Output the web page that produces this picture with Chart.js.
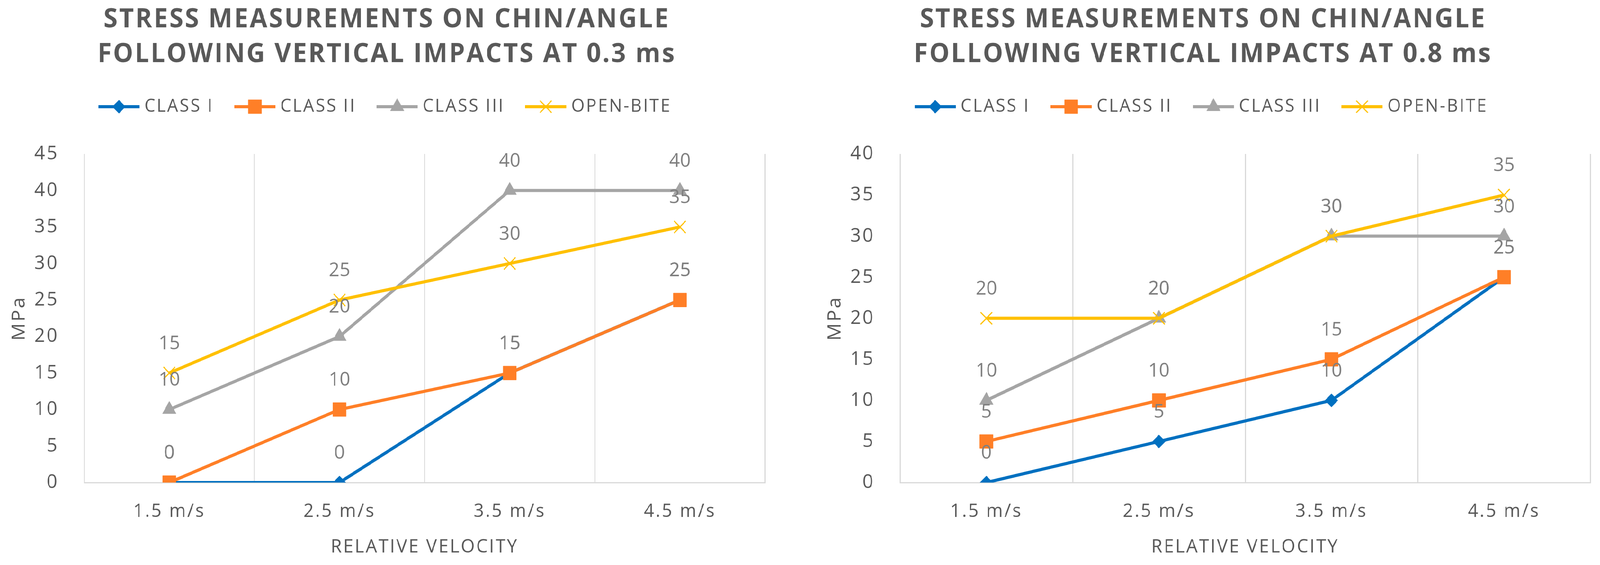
<!DOCTYPE html>
<html>
<head>
<meta charset="utf-8">
<script src="https://cdn.jsdelivr.net/npm/chart.js@4.4.1/dist/chart.umd.min.js"></script>
<style>
  html, body { margin: 0; padding: 0; background: #fff; overflow: hidden; }
  #wrap { position: relative; width: 4275px; height: 1446px; transform-origin: 0 0; }
  .box { position: absolute; top: 0; height: 1446px; }
  #left { left: 0; width: 2070px; }
  #right { left: 2180px; width: 2095px; }
</style>
</head>
<body>
<div id="wrap">
  <div class="box" id="left"><canvas id="chart03" width="2070" height="1446"></canvas></div>
  <div class="box" id="right"><canvas id="chart08" width="2095" height="1446"></canvas></div>
</div>
<script>
// categories
const velocities = ['1.5 m/s', '2.5 m/s', '3.5 m/s', '4.5 m/s'];
const seriesNames = ['CLASS I', 'CLASS II', 'CLASS III', 'OPEN-BITE'];

// stress (MPa) at 0.3 ms
const classI_03 = [0, 0, 15, 25];
const classII_03 = [0, 10, 15, 25];
const classIII_03 = [10, 20, 40, 40];
const openBite_03 = [15, 25, 30, 35];

// stress (MPa) at 0.8 ms
const classI_08 = [0, 5, 10, 25];
const classII_08 = [5, 10, 15, 25];
const classIII_08 = [10, 20, 30, 30];
const openBite_08 = [20, 20, 30, 35];

// y axis tops
const yMax03 = 45;
const yMax08 = 40;

// look of each series
const seriesColors = ['#0070C0', '#FF7F27', '#A5A5A5', '#FFC000'];
const pointStyles = ['rectRot', 'rect', 'triangle', 'crossRot'];
const pointRadii = [17, 25, 21, 22];
const FONT = '"Open Sans", "Liberation Sans", sans-serif';
const TEXT = '#595959';

// page is laid out at 4275x1446, fit it to whatever the viewport really is
function fitPage() {
    const sx = document.documentElement.clientWidth / 4275;
    const sy = document.documentElement.clientHeight / 1446;
    document.getElementById('wrap').style.transform = 'scale(' + sx + ',' + sy + ')';
}

// legend icon = short line with the marker on it
function legendIcon(i) {
    const c = document.createElement('canvas');
    c.width = 110;
    c.height = 50;
    const g = c.getContext('2d');
    g.strokeStyle = seriesColors[i];
    g.fillStyle = seriesColors[i];
    g.lineWidth = 8;
    g.beginPath();
    g.moveTo(0, 25);
    g.lineTo(110, 25);
    g.stroke();
    g.lineWidth = pointStyles[i] === 'crossRot' ? 3 : 1;
    Chart.helpers.drawPoint(g, { pointStyle: pointStyles[i], radius: pointRadii[i], rotation: 0, borderWidth: g.lineWidth }, 55, 25);
    return c;
}

// value labels above each point (Excel style)
const valueLabels = {
    id: 'valueLabels',
    afterDatasetsDraw(chart) {
        const ctx = chart.ctx;
        ctx.save();
        ctx.letterSpacing = '0px';
        ctx.font = '50px ' + FONT;
        ctx.fillStyle = '#7F7F7F';
        ctx.textAlign = 'center';
        ctx.textBaseline = 'middle';
        chart.data.datasets.forEach((ds, i) => {
            chart.getDatasetMeta(i).data.forEach((pt, j) => {
                ctx.fillText(String(ds.data[j]), pt.x, pt.y - 75);
            });
        });
        ctx.restore();
    },
};

// the source uses widely tracked text
const spacing = {
    id: 'spacing',
    beforeUpdate(chart) { chart.ctx.letterSpacing = '4px'; },
    beforeDraw(chart) { chart.ctx.letterSpacing = '4px'; },
};

function createStressChart(id, titleLines, values, yMax, padRight) {
    const ctx = document.getElementById(id).getContext('2d');
    return new Chart(ctx, {
        type: 'line',
        data: {
            labels: velocities,
            datasets: values.map((v, i) => ({
                label: seriesNames[i],
                data: v,
                borderColor: seriesColors[i],
                backgroundColor: seriesColors[i],
                borderWidth: 8,
                tension: 0,
                pointStyle: pointStyles[i],
                pointRadius: pointRadii[i],
                pointBorderWidth: pointStyles[i] === 'crossRot' ? 3 : 1,
                pointBackgroundColor: seriesColors[i],
                pointBorderColor: seriesColors[i],
                order: 4 - i, // later series on top, like Excel
            })),
        },
        options: {
            responsive: false,
            animation: false,
            devicePixelRatio: 1,
            layout: { padding: { left: 0, right: padRight, top: 0, bottom: 0 } },
            plugins: {
                tooltip: { enabled: false },
                title: {
                    display: true,
                    text: titleLines,
                    color: TEXT,
                    font: { family: FONT, size: 68, weight: 'bold', lineHeight: 1.309 },
                    padding: { top: 6.5, bottom: 0.5 },
                },
                legend: {
                    display: true,
                    position: 'top',
                    labels: {
                        usePointStyle: true,
                        pointStyleWidth: 90,
                        padding: 65,
                        color: TEXT,
                        font: { family: FONT, size: 46 },
                        generateLabels: () => seriesNames.map((name, i) => ({
                            text: name,
                            pointStyle: legendIcon(i),
                            fontColor: TEXT,
                            fillStyle: seriesColors[i],
                            strokeStyle: seriesColors[i],
                            lineWidth: 0,
                            hidden: false,
                            datasetIndex: i,
                        })),
                    },
                },
                // empty subtitle under the legend, only as a spacer above the plot
                subtitle: {
                    display: true,
                    text: '',
                    weight: 500,
                    font: { size: 10, lineHeight: 1 },
                    padding: { top: 78, bottom: 0 },
                },
            },
            scales: {
                x: {
                    offset: true,
                    grid: { display: true, offset: true, color: '#D9D9D9', lineWidth: 3, drawTicks: false },
                    border: { display: true, color: '#D9D9D9', width: 3 },
                    ticks: { color: TEXT, font: { family: FONT, size: 48 }, padding: 46, maxRotation: 0 },
                    title: {
                        display: true,
                        text: 'RELATIVE VELOCITY',
                        color: TEXT,
                        font: { family: FONT, size: 48 },
                        padding: { top: 0, bottom: 17 },
                    },
                    afterFit(s) { s.height = 211; },
                },
                y: {
                    min: 0,
                    max: yMax,
                    grid: { display: false },
                    border: { display: false },
                    ticks: { stepSize: 5, color: TEXT, font: { family: FONT, size: 50 }, padding: 60 },
                    title: {
                        display: true,
                        text: 'MPa',
                        color: TEXT,
                        font: { family: FONT, size: 50 },
                        padding: { top: 22, bottom: 0 },
                    },
                    afterFit(s) { s.width = 225; },
                },
            },
        },
        plugins: [spacing, valueLabels],
    });
}

document.addEventListener('DOMContentLoaded', function () {
    fitPage();
    createStressChart(
        'chart03',
        ['STRESS MEASUREMENTS ON CHIN/ANGLE', 'FOLLOWING VERTICAL IMPACTS AT 0.3 ms'],
        [classI_03, classII_03, classIII_03, openBite_03],
        yMax03, 3
    );
    createStressChart(
        'chart08',
        ['STRESS MEASUREMENTS ON CHIN/ANGLE', 'FOLLOWING VERTICAL IMPACTS AT 0.8 ms'],
        [classI_08, classII_08, classIII_08, openBite_08],
        yMax08, 26
    );
});
window.addEventListener('resize', fitPage);
</script>
</body>
</html>
